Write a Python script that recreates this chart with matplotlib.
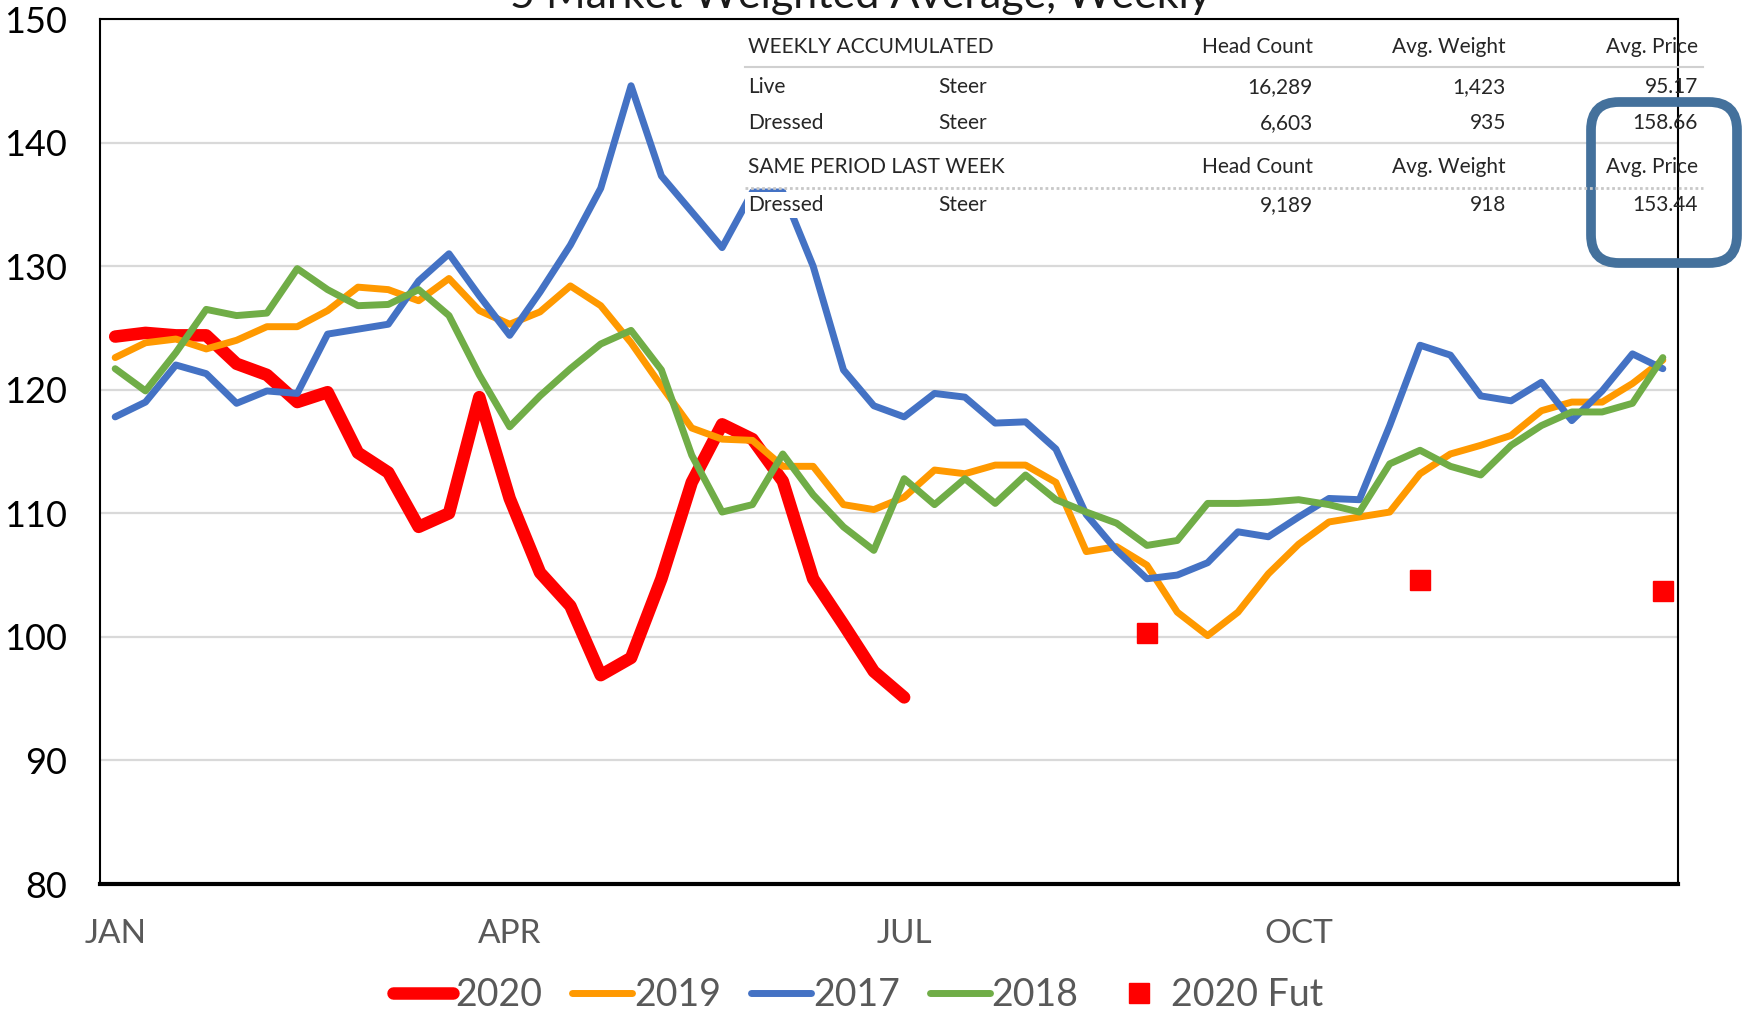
import matplotlib
matplotlib.use("Agg")
import matplotlib.pyplot as plt
from matplotlib.patches import FancyBboxPatch
from matplotlib.lines import Line2D
from matplotlib.transforms import IdentityTransform

plt.rcParams['font.family'] = ['Lato', 'DejaVu Sans']

W, H = 1748, 1018

# weekly prices, week index 0..51
month_labels = ["JAN", "APR", "JUL", "OCT"]
month_weeks = [0, 13, 26, 39]

p2020 = [124.3, 124.6, 124.4, 124.4, 122.1, 121.2, 119.0, 119.8, 114.9, 113.3,
         108.9, 110.0, 119.4, 111.2, 105.2, 102.5, 96.9, 98.3, 104.7, 112.5,
         117.2, 116.0, 112.6, 104.7, 101.0, 97.2, 95.1]
p2019 = [122.6, 123.8, 124.1, 123.3, 124.0, 125.1, 125.1, 126.4, 128.3, 128.1,
         127.2, 129.0, 126.4, 125.3, 126.3, 128.4, 126.8, 123.8, 120.3, 116.9,
         116.0, 115.9, 113.8, 113.8, 110.7, 110.3, 111.3, 113.5, 113.2, 113.9,
         113.9, 112.5, 106.9, 107.3, 105.8, 102.0, 100.1, 102.0, 105.1, 107.5,
         109.3, 109.7, 110.1, 113.2, 114.8, 115.5, 116.3, 118.3, 119.0, 119.0,
         120.5, 122.4]
p2017 = [117.8, 119.0, 122.0, 121.3, 118.9, 119.9, 119.7, 124.5, 124.9, 125.3,
         128.8, 131.0, 127.6, 124.4, 127.9, 131.7, 136.3, 144.6, 137.3, 134.4,
         131.5, 136.0, 136.0, 130.0, 121.6, 118.7, 117.8, 119.7, 119.4, 117.3,
         117.4, 115.2, 109.9, 107.0, 104.7, 105.0, 106.0, 108.5, 108.1, 109.7,
         111.2, 111.1, 117.1, 123.6, 122.8, 119.5, 119.1, 120.6, 117.5, 119.9,
         122.9, 121.7]
p2018 = [121.7, 119.9, 123.0, 126.5, 126.0, 126.2, 129.8, 128.1, 126.8, 126.9,
         128.1, 126.0, 121.2, 117.0, 119.5, 121.7, 123.7, 124.8, 121.6, 114.7,
         110.1, 110.7, 114.8, 111.5, 108.9, 107.0, 112.8, 110.7, 112.8, 110.8,
         113.1, 111.1, 110.1, 109.2, 107.4, 107.8, 110.8, 110.8, 110.9, 111.1,
         110.7, 110.1, 114.0, 115.1, 113.8, 113.1, 115.5, 117.1, 118.2, 118.2,
         118.9, 122.6]
fut_weeks = [34, 43, 51]
fut_vals = [100.3, 104.6, 103.7]

# table text
hdr1 = "WEEKLY ACCUMULATED"
hdr2 = "SAME PERIOD LAST WEEK"
col_names = ["Head Count", "Avg. Weight", "Avg. Price"]
week_rows = [["Live", "Steer", "16,289", "1,423", "95.17"],
             ["Dressed", "Steer", "6,603", "935", "158.66"]]
last_rows = [["Dressed", "Steer", "9,189", "918", "153.44"]]

fig = plt.figure(figsize=(W / 100, H / 100), dpi=100)
ax = fig.add_axes([100 / W, 1 - 884 / H, 1578 / W, 865 / H])

def fx(x):
    return x / W

def fy(y):
    return 1 - y / H

ax.plot(range(len(p2020)), p2020, color='#ff0000', lw=9, label='2020',
        solid_capstyle='round', solid_joinstyle='round', zorder=3)
ax.plot(range(len(p2019)), p2019, color='#ff9900', lw=5, label='2019',
        solid_capstyle='round', solid_joinstyle='round', zorder=3)
ax.plot(range(len(p2017)), p2017, color='#4472c4', lw=5, label='2017',
        solid_capstyle='round', solid_joinstyle='round', zorder=3)
ax.plot(range(len(p2018)), p2018, color='#70ad47', lw=5, label='2018',
        solid_capstyle='round', solid_joinstyle='round', zorder=3)
ax.plot(fut_weeks, fut_vals, ls='none', marker='s', ms=15, color='#ff0000',
        label='2020 Fut', zorder=4)

ax.set_xlim(-0.5, 51.5)
ax.set_ylim(80, 150)
ax.set_yticks(range(80, 151, 10))
ax.set_xticks(month_weeks)
ax.set_xticklabels(month_labels)
ax.tick_params(axis='y', length=0, pad=24, labelsize=26, labelcolor='black')
ax.tick_params(axis='x', length=0, pad=25, labelsize=24, labelcolor='#595959')
ax.grid(axis='y', color='#d9d9d9', lw=1.6)
ax.set_axisbelow(True)
for s in ax.spines.values():
    s.set_color('black')
    s.set_linewidth(1.5)
ax.spines['bottom'].set_linewidth(3)

fig.text(fx(860), fy(8), "5 Market Weighted Average, Weekly", ha='center',
         va='baseline', fontsize=31, color='#1a1a1a')

# table overlay
tcol = '#262626'
tfs = 15
col_right = [1313, 1506, 1698]
lab_x, typ_x = 748, 938

def header(y, name):
    fig.text(fx(lab_x), fy(y), name, ha='left', va='center', fontsize=tfs, color=tcol)
    for c, n in zip(col_right, col_names):
        fig.text(fx(c), fy(y), n, ha='right', va='center', fontsize=tfs, color=tcol)

def rows(ys, data, box=False):
    for y, r in zip(ys, data):
        kw = {}
        if box:
            kw = dict(bbox=dict(facecolor='white', edgecolor='none', pad=2))
        fig.text(fx(lab_x), fy(y), r[0], ha='left', va='center', fontsize=tfs,
                 color=tcol, zorder=5, **kw)
        fig.text(fx(typ_x), fy(y), r[1], ha='left', va='center', fontsize=tfs, color=tcol)
        for c, v in zip(col_right, r[2:]):
            fig.text(fx(c), fy(y), v, ha='right', va='center', fontsize=tfs, color=tcol)

header(47, hdr1)
rows([87, 123], week_rows)
header(167, hdr2)
rows([205], last_rows, box=True)
fig.add_artist(Line2D([fx(745), fx(1703)], [fy(67), fy(67)], color='#d0d0d0', lw=1.5))
fig.add_artist(Line2D([fx(745), fx(1703)], [fy(188), fy(188)], color='#c8c8c8',
                      lw=2, ls=(0, (1, 1))))

box = FancyBboxPatch((1591, H - 263), 146, 161, boxstyle="round,pad=0,rounding_size=28",
                     transform=IdentityTransform(), facecolor='none',
                     edgecolor='#44719c', lw=7)
fig.add_artist(box)

handles, labels = ax.get_legend_handles_labels()
fig.legend(handles, labels, loc='center', bbox_to_anchor=(fx(858), fy(995)),
           ncol=5, frameon=False, fontsize=27, labelcolor='#595959',
           handlelength=1.6, handletextpad=0.05, columnspacing=0.8)

fig.savefig("out.png", dpi=100)
